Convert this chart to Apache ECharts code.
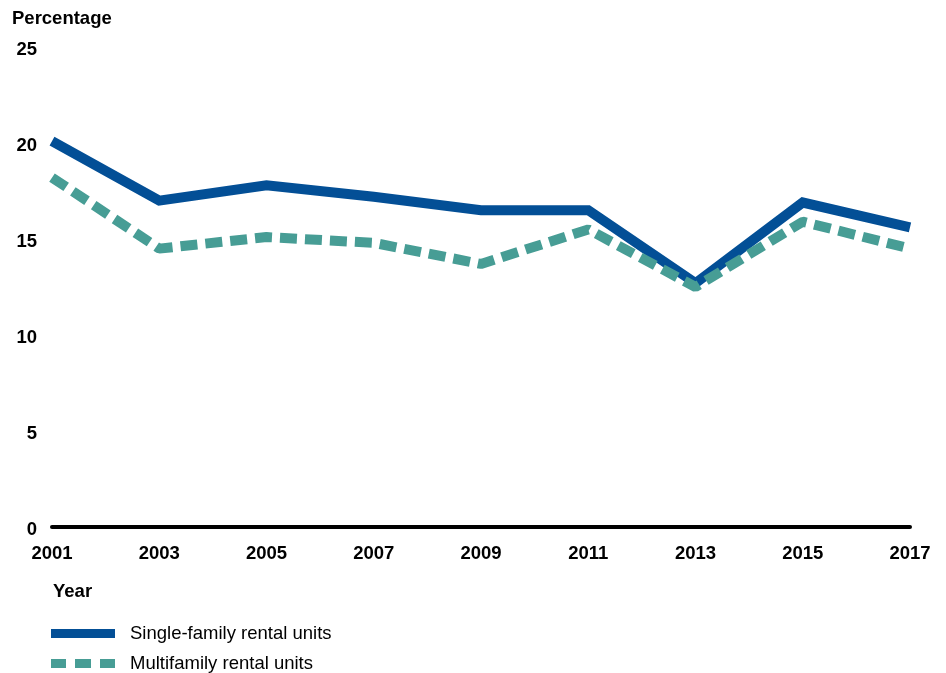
<!DOCTYPE html>
<html>
<head>
<meta charset="utf-8">
<script src="https://cdn.jsdelivr.net/npm/echarts@6/dist/echarts.min.js"></script>
<style>html,body{margin:0;padding:0;background:#fff;}#c{width:946px;height:673px;}</style>
</head>
<body>
<div id="c"></div>
<script>
var years = ['2001','2003','2005','2007','2009','2011','2013','2015','2017'];
var singleFamily = [20.1, 17.0, 17.8, 17.2, 16.5, 16.5, 12.7, 16.9, 15.6];
var multifamily = [18.2, 14.5, 15.1, 14.8, 13.7, 15.5, 12.5, 15.9, 14.5];
var yTicks = [0, 5, 10, 15, 20, 25];
var seriesNames = ['Single-family rental units', 'Multifamily rental units'];

var chart = echarts.init(document.getElementById('c'));
var font = 'Liberation Sans, Arial, sans-serif';
var fs = 18.5;
var legendText = {fontFamily: font, fontSize: fs, color: '#000', padding: [0, 0, 0, 10]};
chart.setOption({
  animation: false,
  title: [
    {text: 'Percentage', left: 7, top: 4, textStyle: {fontFamily: font, fontSize: fs, fontWeight: 'bold', color: '#000'}},
    {text: 'Year', left: 48, top: 577, textStyle: {fontFamily: font, fontSize: fs, fontWeight: 'bold', color: '#000'}}
  ],
  grid: {left: 52, right: 36, top: 47, bottom: 146},
  xAxis: {
    type: 'category', data: years, boundaryGap: false,
    axisLine: {show: true, lineStyle: {color: '#000', width: 4}},
    axisTick: {show: false},
    axisLabel: {color: '#000', fontFamily: font, fontSize: fs, fontWeight: 'bold', margin: 17}
  },
  yAxis: {
    type: 'value', min: yTicks[0], max: yTicks[yTicks.length-1], interval: 5,
    axisLine: {show: false}, axisTick: {show: false}, splitLine: {show: false},
    axisLabel: {color: '#000', fontFamily: font, fontSize: fs, fontWeight: 'bold', margin: 15, lineHeight: 22, verticalAlign: 'top', padding: [-8, 0, 0, 0]}
  },
  legend: [
    {left: 46, top: 619, itemWidth: 64, itemHeight: 9, itemGap: 0, textStyle: legendText,
     data: [{name: seriesNames[0], icon: 'rect'}]},
    {left: 46, top: 649, itemWidth: 64, itemHeight: 9, itemGap: 0, textStyle: legendText,
     data: [{name: seriesNames[1], icon: 'path://M0,0h15v9h-15z M24,0h16v9h-16z M49,0h15v9h-15z'}]}
  ],
  series: [
    {name: seriesNames[0], type: 'line', data: singleFamily, symbol: 'none',
     lineStyle: {color: '#034f96', width: 10, cap: 'butt', join: 'miter'}, itemStyle: {color: '#034f96'}},
    {name: seriesNames[1], type: 'line', data: multifamily, symbol: 'none',
     lineStyle: {color: '#479d95', width: 10, type: [17, 8], cap: 'butt'}, itemStyle: {color: '#479d95'}}
  ]
});
</script>
</body>
</html>
